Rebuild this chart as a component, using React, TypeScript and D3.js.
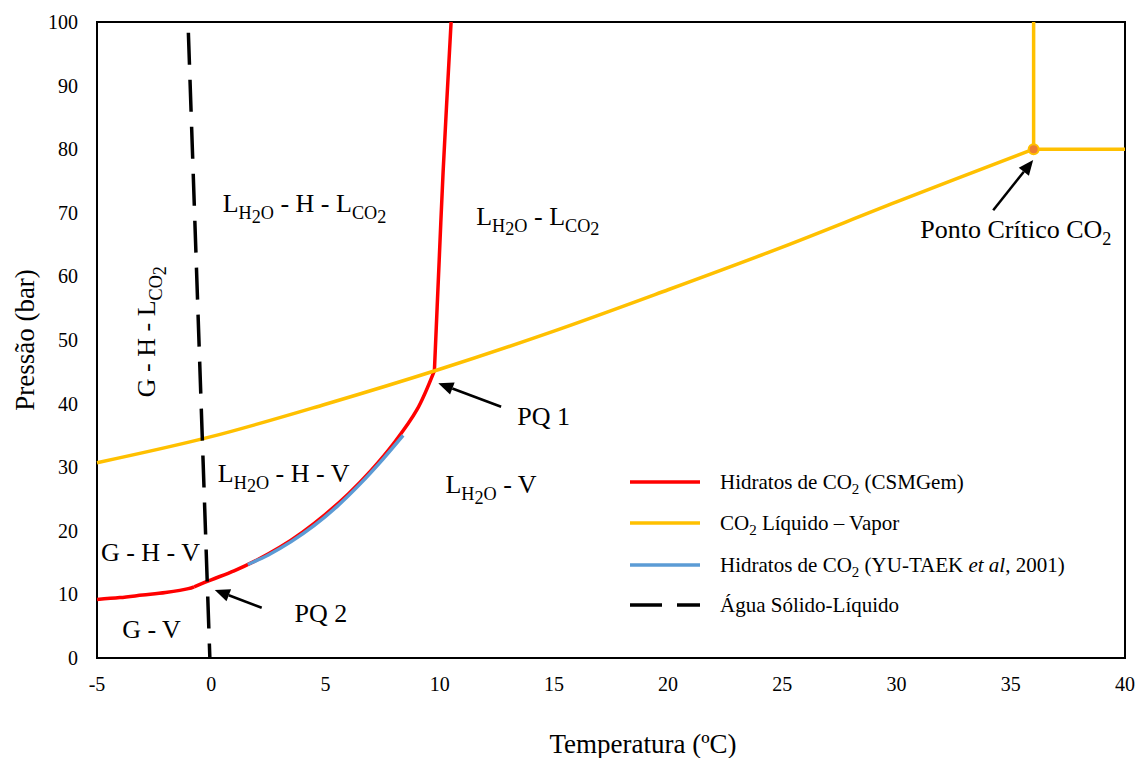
import React from 'react';
import * as d3 from 'd3';

// Hidratos de CO2 (CSMGem) [T ºC, P bar], three branches meeting at the quadruple points
const hydrateCsmIce: [number, number][] = [
  [-5, 9.2], [-4, 9.5], [-3, 9.9], [-2, 10.3], [-1, 10.9], [-0.75, 11.2],
];
const hydrateCsmLiquid: [number, number][] = [
  [-0.75, 11.2], [0, 12.3], [1, 13.7], [2, 15.4], [3, 17.4], [4, 19.8], [5, 22.6],
  [6, 25.8], [7, 29.5], [8, 33.8], [9, 39.0], [9.77, 45.2],
];
const hydrateCsmHigh: [number, number][] = [
  [9.77, 45.2], [9.98, 62.6], [10.15, 76.4], [10.5, 100],
];
// CO2 Líquido – Vapor
const co2Vapor: [number, number][] = [
  [-5, 30.7], [0, 34.8], [5, 39.9], [10, 45.4], [15, 51.4], [20, 57.9],
  [25, 64.6], [30, 71.7], [36, 80],
];
const co2Horizontal: [number, number][] = [[36, 80], [40, 80]];
const co2Vertical: [number, number][] = [[36, 80], [36, 100]];
// Hidratos de CO2 (YU-TAEK et al, 2001)
const hydrateYu: [number, number][] = [
  [1.6, 14.7], [2.5, 16.2], [3.5, 18.3], [4.5, 20.8], [5.5, 23.8], [6.5, 27.3],
  [7.5, 31.2], [8.4, 35.0],
];
// Água Sólido-Líquido
const iceLine: [number, number][] = [[-1.0, 98.3], [-0.06, 0]];
const criticalPoint: [number, number] = [36, 80];

const xTicks = [-5, 0, 5, 10, 15, 20, 25, 30, 35, 40];
const yTicks = [0, 10, 20, 30, 40, 50, 60, 70, 80, 90, 100];

const W = 1139;
const H = 758;
const margin = { top: 22, right: 12, bottom: 100, left: 97 };
const FONT = 'Liberation Serif, Times New Roman, Times, serif';
const LABEL = 26;

type Part = { t: string; lvl?: number };

function RichText({ x, y, parts, size, rotate, anchor }: { x: number; y: number; parts: Part[]; size: number; rotate?: number; anchor?: string }) {
  const offs = [0, size * 0.26, size * 0.4];
  const sizes = [size, size * 0.7, size * 0.7];
  let prev = 0;
  const spans = parts.map((p, i) => {
    const lvl = p.lvl || 0;
    const dy = offs[lvl] - offs[prev];
    prev = lvl;
    return (
      <tspan key={i} dy={dy} fontSize={sizes[lvl]}>{p.t}</tspan>
    );
  });
  return (
    <text x={x} y={y} fill="#000" textAnchor={anchor || 'start'}
      transform={rotate ? `rotate(${rotate},${x},${y})` : undefined} style={{ whiteSpace: 'pre', fontFamily: FONT }}>
      {spans}
    </text>
  );
}

function Arrow({ x1, y1, x2, y2 }: { x1: number; y1: number; x2: number; y2: number }) {
  const ang = Math.atan2(y2 - y1, x2 - x1);
  const len = 15;
  const half = 6.5;
  const bx = x2 - len * Math.cos(ang);
  const by = y2 - len * Math.sin(ang);
  const px = -Math.sin(ang) * half;
  const py = Math.cos(ang) * half;
  return (
    <g>
      <line x1={x1} y1={y1} x2={bx} y2={by} stroke="#000" strokeWidth={2.5} />
      <polygon points={`${x2},${y2} ${bx + px},${by + py} ${bx - px},${by - py}`} fill="#000" />
    </g>
  );
}

export default function App() {
  const x = d3.scaleLinear().domain([-5, 40]).range([margin.left, W - margin.right - 2]);
  const y = d3.scaleLinear().domain([0, 100]).range([H - margin.bottom, margin.top]);
  const smooth = d3.line<[number, number]>().x(d => x(d[0])).y(d => y(d[1])).curve(d3.curveCatmullRom.alpha(0.5));
  const straight = d3.line<[number, number]>().x(d => x(d[0])).y(d => y(d[1]));

  const sub = (s: string): Part => ({ t: s, lvl: 1 });
  const sub2 = (s: string): Part => ({ t: s, lvl: 2 });
  const lh2o: Part[] = [{ t: 'L' }, sub('H'), sub2('2'), sub('O')];
  const lco2: Part[] = [{ t: 'L' }, sub('CO'), sub2('2')];

  const legendItems = [
    { color: '#FF0000', dash: undefined, parts: [{ t: 'Hidratos de CO' }, sub('2'), { t: ' (CSMGem)' }] },
    { color: '#FFC000', dash: undefined, parts: [{ t: 'CO' }, sub('2'), { t: ' Líquido – Vapor' }] },
    { color: '#5B9BD5', dash: undefined, parts: [{ t: 'Hidratos de CO' }, sub('2'), { t: ' (YU-TAEK ' }, { t: 'et al', lvl: 3 }, { t: ', 2001)' }] },
    { color: '#000000', dash: '32,15', parts: [{ t: 'Água Sólido-Líquido' }] },
  ];
  const legendY = [482, 523, 565, 605];

  return (
    <div style={{ position: 'absolute', left: 0, top: 0 }}>
      <svg width={W} height={H} style={{ display: 'block', background: '#fff', fontFamily: FONT }}>
        {/* plot frame */}
        <rect x={x(-5)} y={y(100)} width={x(40) - x(-5)} height={y(0) - y(100)} fill="none" stroke="#000" strokeWidth={2} />

        {/* tick labels */}
        {yTicks.map(t => (
          <text key={'y' + t} x={x(-5) - 19} y={y(t) + 7} textAnchor="end" fontSize={20}>{t}</text>
        ))}
        {xTicks.map(t => (
          <text key={'x' + t} x={x(t)} y={y(0) + 33} textAnchor="middle" fontSize={20}>{t}</text>
        ))}

        {/* axis titles */}
        <text x={0} y={0} transform={`translate(34,${(y(0) + y(100)) / 2}) rotate(-90)`} textAnchor="middle" fontSize={27}>Pressão (bar)</text>
        <text x={643} y={753} textAnchor="middle" fontSize={27}>Temperatura (ºC)</text>

        {/* series */}
        <path d={smooth(hydrateCsmIce) || ''} fill="none" stroke="#FF0000" strokeWidth={3.5} />
        <path d={smooth(hydrateCsmLiquid) || ''} fill="none" stroke="#FF0000" strokeWidth={3.5} />
        <path d={smooth(hydrateCsmHigh) || ''} fill="none" stroke="#FF0000" strokeWidth={3.5} />
        <path d={smooth(co2Vapor) || ''} fill="none" stroke="#FFC000" strokeWidth={3.5} />
        <path d={straight(co2Horizontal) || ''} fill="none" stroke="#FFC000" strokeWidth={3.5} />
        <path d={straight(co2Vertical) || ''} fill="none" stroke="#FFC000" strokeWidth={3.5} />
        <path d={smooth(hydrateYu) || ''} fill="none" stroke="#5B9BD5" strokeWidth={3.5} />
        <path d={straight(iceLine) || ''} fill="none" stroke="#000" strokeWidth={3.5} strokeDasharray="32,15" />
        <circle cx={x(criticalPoint[0])} cy={y(criticalPoint[1])} r={5} fill="#ED7D31" stroke="#FFC000" strokeWidth={2} />

        {/* region labels */}
        <RichText x={x(0.5)} y={y(70.1)} size={LABEL} parts={[...lh2o, { t: ' - H - ' }, ...lco2]} />
        <RichText x={x(11.6)} y={y(68.1)} size={LABEL} parts={[...lh2o, { t: ' - ' }, ...lco2]} />
        <RichText x={x(-2.45)} y={y(41.0)} size={LABEL} rotate={-90} parts={[{ t: 'G - H - ' }, ...lco2]} />
        <RichText x={x(0.29)} y={y(27.7)} size={LABEL} parts={[...lh2o, { t: ' - H - V' }]} />
        <RichText x={x(10.25)} y={y(25.9)} size={LABEL} parts={[...lh2o, { t: ' - V' }]} />
        <RichText x={x(-4.83)} y={y(15.3)} size={LABEL} parts={[{ t: 'G - H - V' }]} />
        <RichText x={x(-3.9)} y={y(3.1)} size={LABEL} parts={[{ t: 'G - V' }]} />

        {/* annotations */}
        <Arrow x1={x(12.69)} y1={y(39.5)} x2={x(9.94)} y2={y(43.2)} />
        <RichText x={x(13.4)} y={y(36.6)} size={LABEL} parts={[{ t: 'PQ 1' }]} />
        <Arrow x1={x(2.21)} y1={y(7.9)} x2={x(0.155)} y2={y(10.7)} />
        <RichText x={x(3.65)} y={y(5.7)} size={LABEL} parts={[{ t: 'PQ 2' }]} />
        <Arrow x1={x(34.23)} y1={y(70.4)} x2={x(35.98)} y2={y(78.3)} />
        <RichText x={x(31.04)} y={y(66.0)} size={LABEL} parts={[{ t: 'Ponto Crítico CO' }, sub('2')]} />

        {/* legend */}
        {legendItems.map((it, i) => (
          <g key={i}>
            <line x1={630} x2={700} y1={legendY[i]} y2={legendY[i]} stroke={it.color} strokeWidth={3.5} strokeDasharray={it.dash} />
            <text x={720} y={legendY[i] + 7} fontSize={21} style={{ whiteSpace: 'pre' }}>
              {(() => {
                let prev = 0;
                return it.parts.map((p, j) => {
                  const lvl = p.lvl === 1 ? 1 : 0;
                  const dy = (lvl ? 5 : 0) - (prev ? 5 : 0);
                  prev = lvl;
                  return (
                    <tspan key={j} dy={dy} fontSize={lvl ? 15 : 21} fontStyle={p.lvl === 3 ? 'italic' : 'normal'}>{p.t}</tspan>
                  );
                });
              })()}
            </text>
          </g>
        ))}
      </svg>
    </div>
  );
}
